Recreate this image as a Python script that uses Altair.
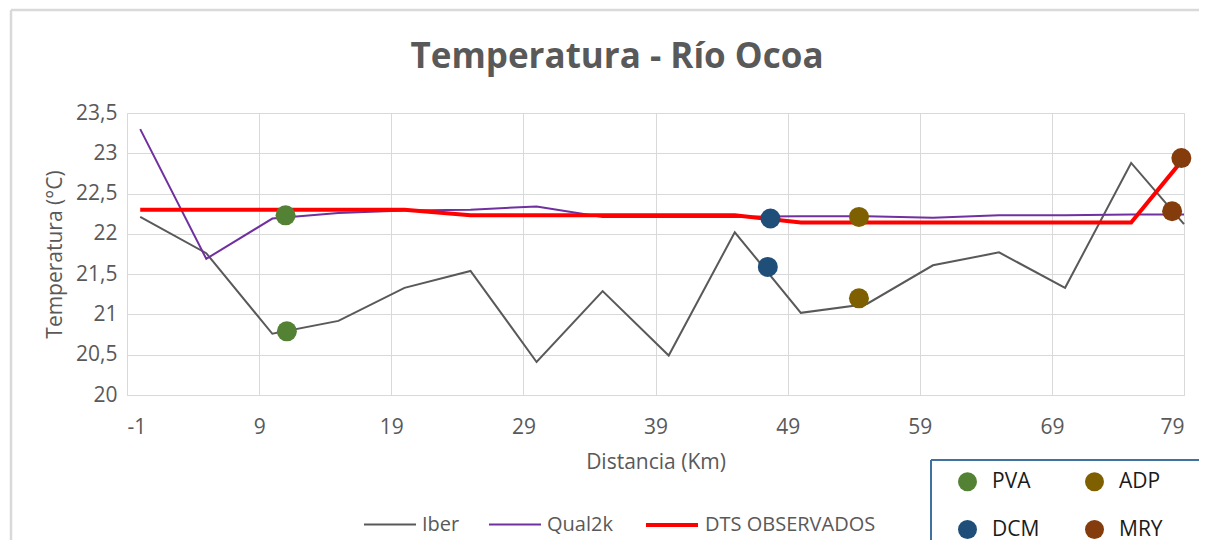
import altair as alt
import pandas as pd

# ---- data ----
dist = [0, 5, 10, 15, 20, 25, 30, 35, 40, 45, 50, 55, 60, 65, 70, 75, 79]
iber = [22.21, 21.76, 20.76, 20.92, 21.33, 21.54, 20.41, 21.29, 20.49, 22.02,
        21.02, 21.13, 21.61, 21.77, 21.33, 22.88, 22.12]
qual2k = [23.30, 21.69, 22.19, 22.26, 22.29, 22.30, 22.34, 22.21, 22.21, 22.21,
          22.22, 22.22, 22.20, 22.23, 22.23, 22.24, 22.24]
dts = [22.30, 22.30, 22.30, 22.30, 22.30, 22.23, 22.23, 22.23, 22.23, 22.23,
       22.14, 22.14, 22.14, 22.14, 22.14, 22.14, 22.94]

series_names = ["Iber", "Qual2k", "DTS OBSERVADOS"]
series_colors = ["#595959", "#7030A0", "#FF0000"]
series_widths = [2, 2, 4]

stations = ["PVA", "PVA", "DCM", "DCM", "ADP", "ADP", "MRY", "MRY"]
st_dist = [11.0, 11.1, 47.7, 47.5, 54.4, 54.4, 78.8, 78.1]
st_temp = [22.23, 20.79, 22.19, 21.59, 22.21, 21.20, 22.94, 22.28]
station_order = ["PVA", "ADP", "DCM", "MRY"]
station_colors = ["#548235", "#7F6000", "#1F4E79", "#843C0C"]

x_ticks = [-1, 9, 19, 29, 39, 49, 59, 69, 79]
y_ticks = [20, 20.5, 21, 21.5, 22, 22.5, 23, 23.5]

title_text = "Temperatura - Río Ocoa"

# ---- tables ----
rows = []
for name, vals in zip(series_names, [iber, qual2k, dts]):
    for d, v in zip(dist, vals):
        rows.append({"serie": name, "dist": d, "temp": v})
lines_df = pd.DataFrame(rows)
pts_df = pd.DataFrame({"estacion": stations, "dist": st_dist, "temp": st_temp})
one = pd.DataFrame({"k": [0]})

TXT = "#595959"
FONT = "Open Sans"

xscale = alt.Scale(domain=[-1, 79], nice=False, zero=False)
yscale = alt.Scale(domain=[20, 23.5], nice=False, zero=False)

xaxis = alt.Axis(values=x_ticks, title="Distancia (Km)", grid=True, gridColor="#D9D9D9",
                 domain=False, ticks=False, labelPadding=21, labelFontSize=21,
                 titleFontSize=21, titleFontWeight="normal", labelColor=TXT,
                 titleColor=TXT, titlePadding=14, labelFont=FONT, titleFont=FONT,
                 labelExpr="toString(datum.value)")
yaxis = alt.Axis(values=y_ticks, title="Temperatura (°C)", grid=True, gridColor="#D9D9D9",
                 domain=False, ticks=False, labelPadding=10, labelFontSize=21,
                 titleFontSize=21, titleFontWeight="normal", labelColor=TXT,
                 titleColor=TXT, titlePadding=10, labelFont=FONT, titleFont=FONT,
                 labelExpr="replace(format(datum.value, '.1~f'), '.', ',')")

line_legend = alt.Legend(orient="none", legendX=236, legendY=384, direction="horizontal",
                         title=None, symbolType="stroke", symbolSize=2704,
                         labelFontSize=20, labelOffset=5, columnPadding=25,
                         labelLimit=400, labelColor=TXT, labelFont=FONT, padding=0)

lines = alt.Chart(lines_df).mark_line().encode(
    x=alt.X("dist:Q", scale=xscale, axis=xaxis),
    y=alt.Y("temp:Q", scale=yscale, axis=yaxis),
    stroke=alt.Stroke("serie:N", scale=alt.Scale(domain=series_names, range=series_colors),
                      legend=line_legend),
    strokeWidth=alt.StrokeWidth("serie:N",
                                scale=alt.Scale(type="ordinal", domain=series_names,
                                                range=series_widths),
                                legend=line_legend),
    order=alt.Order("dist:Q"),
)

points = alt.Chart(pts_df).mark_circle(size=400, opacity=1).encode(
    x=alt.X("dist:Q", scale=xscale),
    y=alt.Y("temp:Q", scale=yscale),
    fill=alt.Fill("estacion:N", scale=alt.Scale(domain=station_order, range=station_colors),
                  legend=alt.Legend(orient="none", legendX=830, legendY=358, columns=2,
                                    direction="horizontal",
                                    title=None, symbolType="circle", symbolSize=361,
                                    labelFontSize=21, labelOffset=14, columnPadding=44,
                                    rowPadding=26, labelColor="#1a1a1a", labelFont=FONT,
                                    padding=0)),
)

# outer chart frame (top and left edges visible in the reference)
frame_top = alt.Chart(one).mark_rule(color="#D9D9D9", strokeWidth=2.5).encode(
    x=alt.value(-116), x2=alt.value(1072), y=alt.value(-103))
frame_left = alt.Chart(one).mark_rule(color="#D9D9D9", strokeWidth=2.5).encode(
    x=alt.value(-116), y=alt.value(-103), y2=alt.value(432))

# box around the station legend
box_top = alt.Chart(one).mark_rule(color="#41719C", strokeWidth=2).encode(
    x=alt.value(804), x2=alt.value(1072), y=alt.value(347))
box_left = alt.Chart(one).mark_rule(color="#41719C", strokeWidth=2).encode(
    x=alt.value(804), y=alt.value(347), y2=alt.value(432))

title = alt.Chart(one).mark_text(fontSize=35, fontWeight="bold", color=TXT, font=FONT,
                                 align="center", baseline="middle").encode(
    x=alt.value(490), y=alt.value(-56), text=alt.value(title_text))

chart = alt.layer(frame_top, frame_left, box_top, box_left, title, lines, points).properties(
    width=1057, height=282,
    padding={"left": 119, "top": 105, "right": 19, "bottom": 145},
    autosize=alt.AutoSizeParams(type="none"),
).configure_view(stroke=None).configure(background="white")

chart.save("out.html", embed_options={"renderer": "svg", "actions": False})
